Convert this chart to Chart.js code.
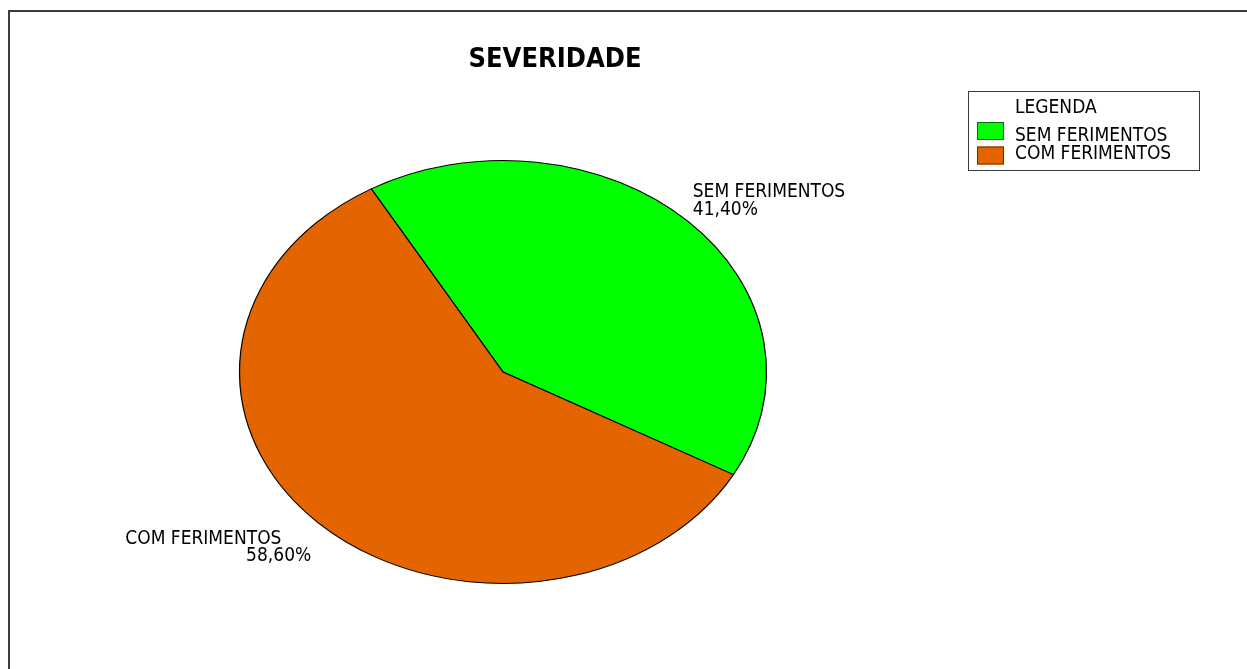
<!DOCTYPE html>
<html>
<head>
<meta charset="utf-8">
<script src="https://cdn.jsdelivr.net/npm/chart.js@4.4.1/dist/chart.umd.min.js"></script>
<style>
  html, body { margin: 0; padding: 0; background: #ffffff; }
  #wrap { position: relative; width: 1247px; height: 669px; }
  canvas { display: block; }
</style>
</head>
<body>
<div id="wrap"><canvas id="c" width="1247" height="669"></canvas></div>
<script>
// Severity breakdown
const chartTitle = 'SEVERIDADE';
const legendTitle = 'LEGENDA';
const categories = ['SEM FERIMENTOS', 'COM FERIMENTOS'];
const shares = [41.40, 58.60];
const sliceColors = ['#00ff00', '#e46500'];
const swatchBorders = ['#0b6a0b', '#6a2e00'];

const FONT = '"DejaVu Sans Condensed", "DejaVu Sans", sans-serif';
const CX = 503, CY = 372;          // pie centre
const RY = 211.5, RX = 263.5;      // vertical / horizontal radius of the ellipse
const STRETCH = RX / RY;

const fmt = v => v.toFixed(2).replace('.', ',') + '%';

const ellipsePlugin = {
  id: 'ellipse',
  beforeDatasetsDraw(chart) {
    const arc = chart.getDatasetMeta(0).data[0];
    const ctx = chart.ctx;
    ctx.save();
    ctx.translate(arc.x, arc.y);
    ctx.scale(STRETCH, 1);
    ctx.translate(-arc.x, -arc.y);
  },
  afterDatasetsDraw(chart) {
    chart.ctx.restore();
  }
};

const decorPlugin = {
  id: 'decor',
  beforeDraw(chart) {
    const ctx = chart.ctx;
    ctx.save();
    ctx.fillStyle = '#ffffff';
    ctx.fillRect(0, 0, chart.width, chart.height);
    // frame
    ctx.fillStyle = '#3c3c3c';
    ctx.fillRect(8, 10, chart.width - 8, 2);
    ctx.fillRect(8, 10, 2, chart.height - 10);
    ctx.restore();
  },
  afterDraw(chart) {
    const ctx = chart.ctx;
    ctx.save();
    // title
    ctx.fillStyle = '#000000';
    ctx.font = 'bold 27px ' + FONT;
    ctx.textAlign = 'center';
    ctx.textBaseline = 'alphabetic';
    ctx.fillText(chartTitle, 555, 67);

    // slice labels, anchored on each slice's mid-angle at the rim
    const meta = chart.getDatasetMeta(0);
    ctx.font = '19px ' + FONT;
    meta.data.forEach((arc, i) => {
      const mid = (arc.startAngle + arc.endAngle) / 2;
      const ax = arc.x + Math.cos(mid) * arc.outerRadius * STRETCH;
      const ay = arc.y + Math.sin(mid) * arc.outerRadius;
      if (Math.cos(mid) >= 0) {
        ctx.textAlign = 'left';
        ctx.fillText(categories[i], ax + 5, ay - 24);
        ctx.fillText(fmt(shares[i]), ax + 5, ay - 6);
      } else {
        ctx.textAlign = 'left';
        ctx.fillText(categories[i], ax - 193, ay + 21);
        ctx.textAlign = 'right';
        ctx.fillText(fmt(shares[i]), ax - 7, ay + 38);
      }
    });

    // legend
    ctx.strokeStyle = '#3c3c3c';
    ctx.lineWidth = 1;
    ctx.strokeRect(968.5, 91.5, 231, 79);
    ctx.textAlign = 'left';
    ctx.fillStyle = '#000000';
    ctx.fillText(legendTitle, 1015, 113);
    categories.forEach((name, i) => {
      const y = 122 + i * 24.5;
      ctx.fillStyle = sliceColors[i];
      ctx.fillRect(977, y, 27, 18);
      ctx.strokeStyle = swatchBorders[i];
      ctx.strokeRect(977.5, y + 0.5, 26, 17);
      ctx.fillStyle = '#000000';
      ctx.fillText(name, 1015, 141 + i * 18);
    });
    ctx.restore();
  }
};

new Chart(document.getElementById('c'), {
  type: 'pie',
  data: {
    labels: categories,
    datasets: [{
      data: shares,
      backgroundColor: sliceColors,
      borderColor: '#000000',
      borderWidth: 1,
      hoverOffset: 0,
      offset: 0,
      clip: false
    }]
  },
  options: {
    responsive: false,
    animation: false,
    events: [],
    rotation: -30,
    radius: RY,
    layout: {
      padding: { left: CX - 270, right: 1247 - CX - 270, top: CY - 220, bottom: 669 - CY - 220 }
    },
    plugins: {
      legend: { display: false },
      title: { display: false },
      tooltip: { enabled: false }
    }
  },
  plugins: [ellipsePlugin, decorPlugin]
});
</script>
</body>
</html>
